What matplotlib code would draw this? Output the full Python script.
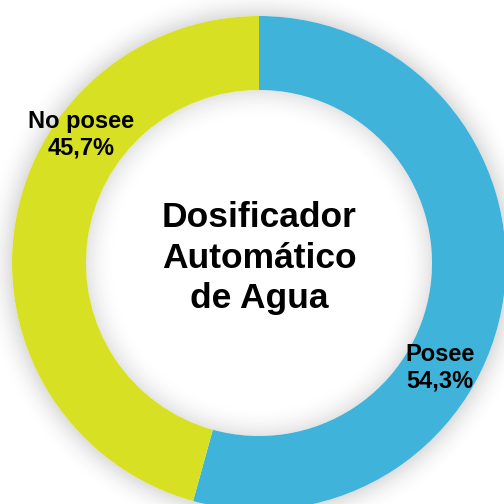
import matplotlib
matplotlib.use("Agg")
import matplotlib.pyplot as plt
from matplotlib.patches import Wedge
import numpy as np

categories = ["Posee", "No posee"]
values = [54.3, 45.7]
colors = ["#3FB3DA", "#D7E023"]
labels = ["Posee\n54,3%", "No posee\n45,7%"]
center_title = "Dosificador\nAutomático\nde Agua"

W = 504
fig = plt.figure(figsize=(5.04, 5.04), dpi=100)
ax = fig.add_axes([0, 0, 1, 1])

cx, cy = 259, W - 263
R = 247
width = 74
r_in = R - width

# soft shadow outside and inside the ring
n = 40
span = 30
step = span / n
for i in range(n):
    t = i / n
    a = 0.13 * (1 - t) ** 2
    ax.add_patch(Wedge((cx, cy), R + step * (i + 1), 0, 360, width=step,
                       facecolor="black", alpha=a, lw=0, zorder=1))
    ax.add_patch(Wedge((cx, cy), r_in - step * i, 0, 360, width=step,
                       facecolor="black", alpha=a * 0.8, lw=0, zorder=1))

ax.pie(values, colors=colors, startangle=90, counterclock=False,
       center=(cx, cy), radius=R, frame=True,
       wedgeprops=dict(width=width, linewidth=0, zorder=2))
ax.set_xlim(0, W)
ax.set_ylim(0, W)
ax.set_aspect("equal")
ax.axis("off")

font = "Liberation Sans"
ax.text(440, W - 368, labels[0], ha="center", va="center", fontsize=17,
        fontweight="bold", family=font, linespacing=1.2, zorder=5)
ax.text(81, W - 135, labels[1], ha="center", va="center", fontsize=17,
        fontweight="bold", family=font, linespacing=1.2, zorder=5)
ax.text(cx, W - 258, center_title, ha="center", va="center", fontsize=25.5,
        fontweight="bold", family=font, linespacing=1.27, zorder=5)

fig.savefig("out.png", dpi=100)
